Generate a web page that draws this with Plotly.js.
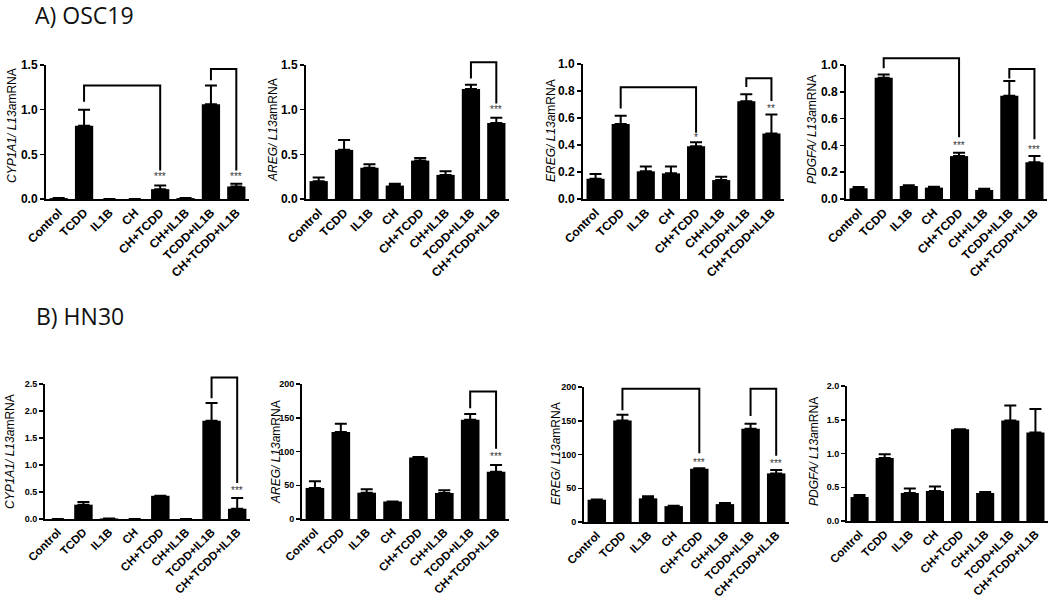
<!DOCTYPE html>
<html><head><meta charset="utf-8">
<script src="https://cdn.plot.ly/plotly-3.0.1.min.js"></script>
<style>html,body{margin:0;padding:0;background:#fff}#chart{width:1050px;height:602px}</style>
</head><body><div id="chart"></div>
<script>
// ---------- data ----------
const categories = ['Control','TCDD','IL1B','CH','CH+TCDD','CH+IL1B','TCDD+IL1B','CH+TCDD+IL1B'];

// A) OSC19  (mean, upper SEM)
const osc19_CYP1A1     = [0.01, 0.82, 0, 0, 0.11, 0.01, 1.06, 0.14];
const osc19_CYP1A1_err = [0, 0.18, 0, 0, 0.04, 0, 0.21, 0.03];
const osc19_AREG       = [0.20, 0.55, 0.35, 0.15, 0.43, 0.27, 1.23, 0.85];
const osc19_AREG_err   = [0.04, 0.11, 0.04, 0.02, 0.03, 0.04, 0.05, 0.06];
const osc19_EREG       = [0.15, 0.555, 0.205, 0.19, 0.39, 0.14, 0.725, 0.486];
const osc19_EREG_err   = [0.035, 0.062, 0.035, 0.05, 0.03, 0.025, 0.05, 0.14];
const osc19_PDGFA      = [0.08, 0.905, 0.097, 0.085, 0.32, 0.067, 0.77, 0.274];
const osc19_PDGFA_err  = [0.01, 0.025, 0.005, 0.007, 0.025, 0.01, 0.11, 0.046];

// B) HN30
const hn30_CYP1A1      = [0, 0.265, 0.01, 0, 0.43, 0, 1.82, 0.19];
const hn30_CYP1A1_err  = [0, 0.05, 0, 0, 0, 0, 0.33, 0.2];
const hn30_AREG        = [46, 129, 39, 26, 91, 38.5, 147, 70];
const hn30_AREG_err    = [10, 12, 5, 0, 1, 4, 8.5, 10];
const hn30_EREG        = [33, 150.5, 35, 23.5, 79, 26.5, 138, 72];
const hn30_EREG_err    = [0.5, 8.5, 3, 0.5, 0.5, 1.5, 7.5, 5];
const hn30_PDGFA       = [0.355, 0.935, 0.415, 0.445, 1.36, 0.415, 1.49, 1.31];
const hn30_PDGFA_err   = [0.03, 0.055, 0.065, 0.065, 0, 0.015, 0.22, 0.35];

// y tick values
const ticks1_5 = [0, 0.5, 1.0, 1.5];
const ticks1_0 = [0, 0.2, 0.4, 0.6, 0.8, 1.0];
const ticks2_5 = [0, 0.5, 1.0, 1.5, 2.0, 2.5];
const ticks200 = [0, 50, 100, 150, 200];
const ticks2_0 = [0, 0.5, 1.0, 1.5, 2.0];

// significance brackets: [fromIndex, toIndex, top, leftLegBottom, rightLegBottom]
const br_osc19_CYP1A1 = [[1,4,1.27,1.09,0.32],[6,7,1.455,1.33,0.32]];
const br_osc19_AREG   = [[6,7,1.53,1.35,1.07]];
const br_osc19_EREG   = [[1,4,0.827,0.67,0.49],[6,7,0.894,0.83,0.726]];
const br_osc19_PDGFA  = [[1,4,1.05,0.975,0.46],[6,7,0.97,0.90,0.445]];
const br_hn30_CYP1A1  = [[6,7,2.62,2.235,0.665]];
const br_hn30_AREG    = [[6,7,189,164,104]];
const br_hn30_EREG    = [[1,4,197.5,165.7,102],[6,7,197.5,157,98]];
const br_hn30_PDGFA   = [];

// significance marks: [index, height, label]
const st_osc19_CYP1A1 = [[4,0.25,'***'],[7,0.25,'***']];
const st_osc19_AREG   = [[7,1.0,'***']];
const st_osc19_EREG   = [[4,0.455,'*'],[7,0.67,'**']];
const st_osc19_PDGFA  = [[4,0.40,'***'],[7,0.37,'***']];
const st_hn30_CYP1A1  = [[7,0.53,'***']];
const st_hn30_AREG    = [[7,93,'***']];
const st_hn30_EREG    = [[4,88,'***'],[7,86,'***']];
const st_hn30_PDGFA   = [];

// ---------- layout config ----------
const W = 1050, H = 602;
const panels = [
  {gene:'CYP1A1', v:osc19_CYP1A1, e:osc19_CYP1A1_err, ticks:ticks1_5, fmt:'.1f', box:[46,249,65,199], t:[12,126], ts:12, xs:12, br:br_osc19_CYP1A1, st:st_osc19_CYP1A1},
  {gene:'AREG',   v:osc19_AREG,   e:osc19_AREG_err,   ticks:ticks1_5, fmt:'.1f', box:[306,509,65,199], t:[273,130], ts:12, xs:12, br:br_osc19_AREG, st:st_osc19_AREG},
  {gene:'EREG',   v:osc19_EREG,   e:osc19_EREG_err,   ticks:ticks1_0, fmt:'.1f', box:[583,784,64,199], t:[551,131], ts:12, xs:12, br:br_osc19_EREG, st:st_osc19_EREG},
  {gene:'PDGFA',  v:osc19_PDGFA,  e:osc19_PDGFA_err,  ticks:ticks1_0, fmt:'.1f', box:[846,1047,65,199], t:[812,130], ts:12, xs:12, br:br_osc19_PDGFA, st:st_osc19_PDGFA},
  {gene:'CYP1A1', v:hn30_CYP1A1,  e:hn30_CYP1A1_err,  ticks:ticks2_5, fmt:'.1f', box:[45,250,384,519], t:[10,452], ts:9, xs:11.5, br:br_hn30_CYP1A1, st:st_hn30_CYP1A1},
  {gene:'AREG',   v:hn30_AREG,    e:hn30_AREG_err,    ticks:ticks200, fmt:'d',   box:[302,509,384,519], t:[276,452], ts:9, xs:11.5, br:br_hn30_AREG, st:st_hn30_AREG},
  {gene:'EREG',   v:hn30_EREG,    e:hn30_EREG_err,    ticks:ticks200, fmt:'d',   box:[584,789,387,522], t:[556,454], ts:9, xs:11.5, br:br_hn30_EREG, st:st_hn30_EREG},
  {gene:'PDGFA',  v:hn30_PDGFA,   e:hn30_PDGFA_err,   ticks:ticks2_0, fmt:'.1f', box:[847,1048,386,521], t:[814,452], ts:9, xs:11.5, br:br_hn30_PDGFA, st:st_hn30_PDGFA}
];

const FONT = 'Arial';
const traces = [];
const layout = {
  width: W, height: H,
  margin: {l:0, r:0, t:0, b:0},
  paper_bgcolor: '#fff', plot_bgcolor: 'rgba(0,0,0,0)',
  showlegend: false,
  bargap: 0.28,
  font: {family: FONT, color: '#000'},
  annotations: [
    {text:'A) OSC19', xref:'paper', yref:'paper', x:33/W, y:1-15/H, xanchor:'left', yanchor:'middle', showarrow:false, font:{family:'Open Sans', size:23, color:'#111'}},
    {text:'B) HN30',  xref:'paper', yref:'paper', x:34/W, y:1-316/H, xanchor:'left', yanchor:'middle', showarrow:false, font:{family:'Open Sans', size:23, color:'#111'}}
  ]
};

panels.forEach((p, k) => {
  const i = k + 1, j = k + 9;
  const xa = 'x' + i, ya = 'y' + i, yb = 'y' + j;
  const xd = [p.box[0]/W, p.box[1]/W];
  const yd = [1 - p.box[3]/H, 1 - p.box[2]/H];
  const R = p.ticks[p.ticks.length - 1];
  const ext = 0.045;
  const yd2 = [yd[0], Math.min(1, yd[1] + ext)];
  const R2 = R * (yd2[1] - yd2[0]) / (yd[1] - yd[0]);

  traces.push({
    type:'bar', x:categories, y:p.v, xaxis:xa, yaxis:ya,
    marker:{color:'#000', line:{width:0}},
    error_y:{type:'data', symmetric:false, array:p.e, arrayminus:p.e.map(() => 0), color:'#000', thickness:2, width:6},
    hoverinfo:'skip'
  });
  p.br.forEach(b => {
    traces.push({
      type:'scatter', mode:'lines', xaxis:xa, yaxis:yb,
      x:[categories[b[0]], categories[b[0]], categories[b[1]], categories[b[1]]],
      y:[b[3], b[2], b[2], b[4]],
      line:{color:'#000', width:2}, hoverinfo:'skip'
    });
  });
  p.st.forEach(s => {
    layout.annotations.push({text:s[2], xref:xa, yref:ya, x:categories[s[0]], y:s[1], showarrow:false, xanchor:'center', yanchor:'middle', font:{family:FONT, size:10, color:'#333'}});
  });

  layout['xaxis' + (i === 1 ? '' : i)] = {
    domain: xd, anchor: ya, type:'category', categoryorder:'array', categoryarray:categories,
    showline:true, linecolor:'#000', linewidth:2, ticks:'', showgrid:false, zeroline:false,
    tickangle:-45, tickfont:{family:FONT, size:p.xs, color:'#000', weight:'bold'}, fixedrange:true
  };
  layout['yaxis' + i] = {
    domain: yd, anchor: xa, range:[0, R], tickvals:p.ticks, tickformat:p.fmt,
    showline:true, linecolor:'#000', linewidth:2, ticks:'outside', ticklen:4, tickwidth:1.5, tickcolor:'#000',
    showgrid:false, zeroline:false, tickfont:{family:FONT, size:p.ts, color:'#000', weight:'bold'}, fixedrange:true
  };
  layout['yaxis' + j] = {
    domain: yd2, anchor: xa, range:[0, R2], visible:false, showgrid:false, zeroline:false, fixedrange:true
  };
  layout.annotations.push({
    text:'<i>' + p.gene + '/ L13a</i>mRNA', xref:'paper', yref:'paper', x:p.t[0]/W, y:1 - p.t[1]/H,
    textangle:-90, showarrow:false, xanchor:'center', yanchor:'middle', font:{family:FONT, size:12, color:'#000'}
  });
});

Plotly.newPlot('chart', traces, layout, {staticPlot:true, displayModeBar:false});
</script>
</body></html>
